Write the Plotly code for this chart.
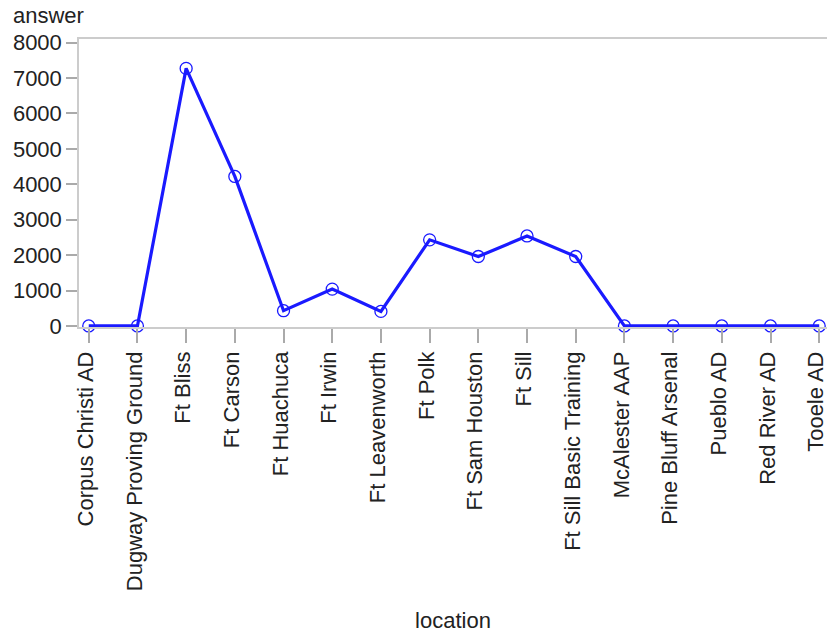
import plotly.graph_objects as go

locations = [
    "Corpus Christi AD", "Dugway Proving Ground", "Ft Bliss", "Ft Carson",
    "Ft Huachuca", "Ft Irwin", "Ft Leavenworth", "Ft Polk", "Ft Sam Houston",
    "Ft Sill", "Ft Sill Basic Training", "McAlester AAP", "Pine Bluff Arsenal",
    "Pueblo AD", "Red River AD", "Tooele AD",
]
answers = [0, 0, 7270, 4220, 430, 1040, 410, 2430, 1960, 2540, 1960, 0, 0, 0, 0, 0]

# page body has an 8px margin, so the figure is shrunk and offset by that much
W, H = 819, 626
L, R, T, B = 71, 0, 31, 307

fig = go.Figure()
fig.add_trace(go.Scatter(
    x=locations, y=answers,
    mode="lines+markers",
    line=dict(color="#1a1aff", width=3.2),
    marker=dict(symbol="circle-open", size=12, color="#1a1aff", line=dict(width=1.3)),
    cliponaxis=False,
    showlegend=False,
))

axis_font = dict(family="Liberation Sans, Arial, sans-serif", size=22, color="#222222")

fig.update_layout(
    width=W, height=H,
    margin=dict(l=L, r=R, t=T, b=B, autoexpand=False),
    plot_bgcolor="white",
    paper_bgcolor="white",
    font=axis_font,
    xaxis=dict(
        type="category",
        range=[-0.2, 15.16],
        showgrid=False,
        showline=True, linecolor="#cccccc", linewidth=1.5, mirror=True,
        ticks="outside", ticklen=14, tickcolor="#aaaaaa", tickwidth=1.5,
        tickangle=-90,
        ticklabelshift=-3,
        tickfont=axis_font,
        title=dict(text="location", font=axis_font, standoff=22),
    ),
    yaxis=dict(
        range=[-30, 8100],
        tickvals=[0, 1000, 2000, 3000, 4000, 5000, 6000, 7000, 8000],
        showgrid=False, zeroline=False,
        showline=True, linecolor="#cccccc", linewidth=1.5,
        ticks="outside", ticklen=11, tickcolor="#aaaaaa", tickwidth=1.5,
        tickfont=axis_font,
    ),
    annotations=[dict(
        text="answer", xref="paper", yref="paper",
        x=(3 - L) / (W - L - R), y=1 + (T - 7) / (H - T - B),
        xanchor="left", yanchor="middle", showarrow=False,
        font=axis_font,
    )],
)

fig.write_html("out.html")
